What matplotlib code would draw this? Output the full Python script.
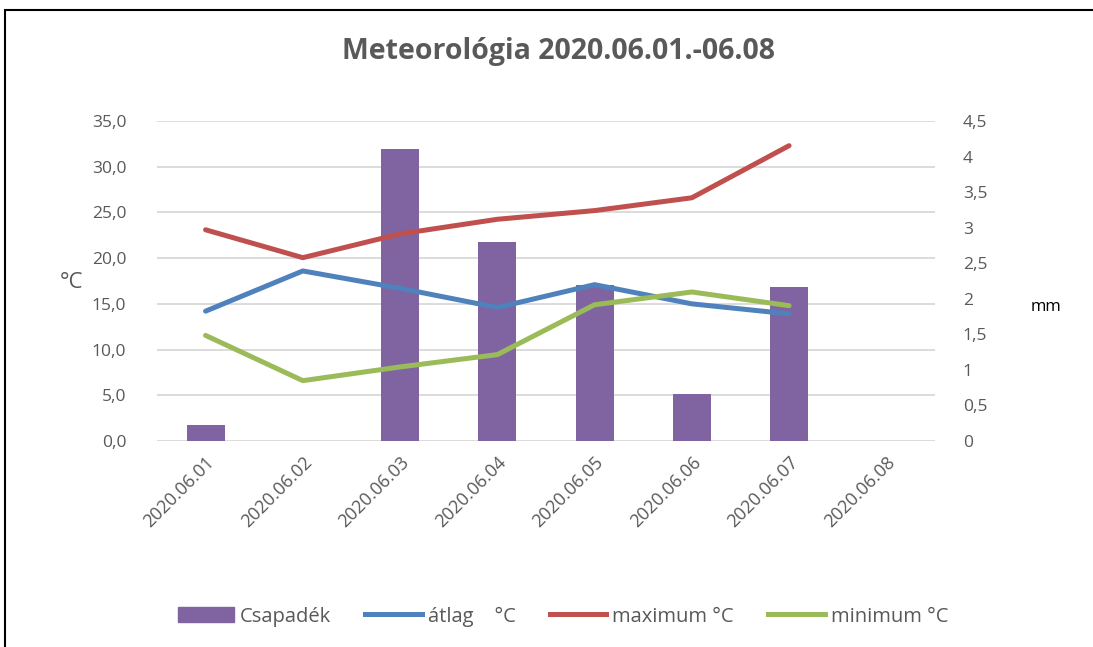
import numpy as np
import matplotlib.pyplot as plt
from matplotlib.patches import Rectangle
from matplotlib.lines import Line2D
from matplotlib.ticker import FuncFormatter
from matplotlib.transforms import blended_transform_factory

plt.rcParams['font.family'] = ['Open Sans', 'DejaVu Sans']

# %% data
dates = ["2020.06.01", "2020.06.02", "2020.06.03", "2020.06.04",
         "2020.06.05", "2020.06.06", "2020.06.07", "2020.06.08"]
csapadek = [0.22, 0.0, 4.1, 2.8, 2.2, 0.66, 2.17, 0.0]         # mm
atlag = [14.2, 18.6, 16.7, 14.6, 17.1, 15.0, 13.9, np.nan]     # °C
maximum = [23.1, 20.05, 22.65, 24.25, 25.2, 26.6, 32.3, np.nan]
minimum = [11.55, 6.6, 8.1, 9.45, 14.9, 16.3, 14.8, np.nan]

c_bar = "#8064A2"
c_avg = "#4F81BD"
c_max = "#C0504D"
c_min = "#9BBB59"
grey = "#595959"

# %% plot
fig = plt.figure(figsize=(10.93, 6.47), dpi=100)
ax = fig.add_axes([0.1436, 0.3184, 0.7118, 0.4946])
ax2 = ax.twinx()

x = np.arange(len(dates))
ax2.bar(x, csapadek, width=0.39, color=c_bar, zorder=2)

lw = 3.6
for series, col in ((atlag, c_avg), (maximum, c_max), (minimum, c_min)):
    ax.plot(x, series, color=col, lw=lw, solid_capstyle="round", solid_joinstyle="round")

# lines above the bars
ax.set_zorder(ax2.get_zorder() + 1)
ax.patch.set_visible(False)

ax.set_xlim(-0.5, len(dates) - 0.5)
ax.set_ylim(0, 35)
ax2.set_ylim(0, 4.5)
left_ticks = np.arange(0, 35.1, 5)
ax.set_yticks(left_ticks)
ax2.set_yticks(np.arange(0, 4.51, 0.5))
ax.yaxis.set_major_formatter(FuncFormatter(lambda v, p: f"{v:.1f}".replace(".", ",")))
ax2.yaxis.set_major_formatter(FuncFormatter(lambda v, p: f"{v:g}".replace(".", ",")))

ax.set_xticks(x)
ax.set_xticklabels(dates, rotation=45, ha="right", rotation_mode="anchor")

# gridlines follow the left (°C) axis, drawn behind the bars
trans = blended_transform_factory(ax2.transAxes, ax.transData)
ax2.hlines(left_ticks, 0, 1, transform=trans, color="#D9D9D9", lw=1.3, zorder=0)

for a in (ax, ax2):
    for s in a.spines.values():
        s.set_visible(False)
    a.tick_params(length=0, colors=grey, labelsize=12.5)
ax.tick_params(axis="y", pad=22)
ax2.tick_params(axis="y", pad=20)
ax.tick_params(axis="x", pad=9, labelsize=13)

fig.text(0.065, 0.564, "°C", fontsize=16, color=grey, ha="center", va="center")
fig.text(0.957, 0.5255, "mm", fontsize=12, color="black", ha="center", va="center")

fig.text(0.511, 0.921, "Meteorológia 2020.06.01.-06.08", fontsize=20.5, fontweight="bold",
         color=grey, ha="center", va="center")

# legend
handles = [Rectangle((0, 0), 1, 1, color=c_bar),
           Line2D([], [], color=c_avg, lw=lw),
           Line2D([], [], color=c_max, lw=lw),
           Line2D([], [], color=c_min, lw=lw)]
labels = ["Csapadék", "átlag    °C", "maximum °C", "minimum °C"]
fig.legend(handles, labels, loc="center", bbox_to_anchor=(0.515, 0.047), ncol=4,
           frameon=False, fontsize=14.5, labelcolor=grey, handlelength=2.8,
           handletextpad=0.3, columnspacing=1.7, handleheight=0.8)

# chart frame (cut by image edges right and bottom)
fig.patches.append(Rectangle((5 / 1093, -0.1), 1.2, (647 - 10) / 647 + 0.1,
                             transform=fig.transFigure, fill=False,
                             edgecolor="black", lw=1.5))

fig.savefig("out.png", dpi=100)
